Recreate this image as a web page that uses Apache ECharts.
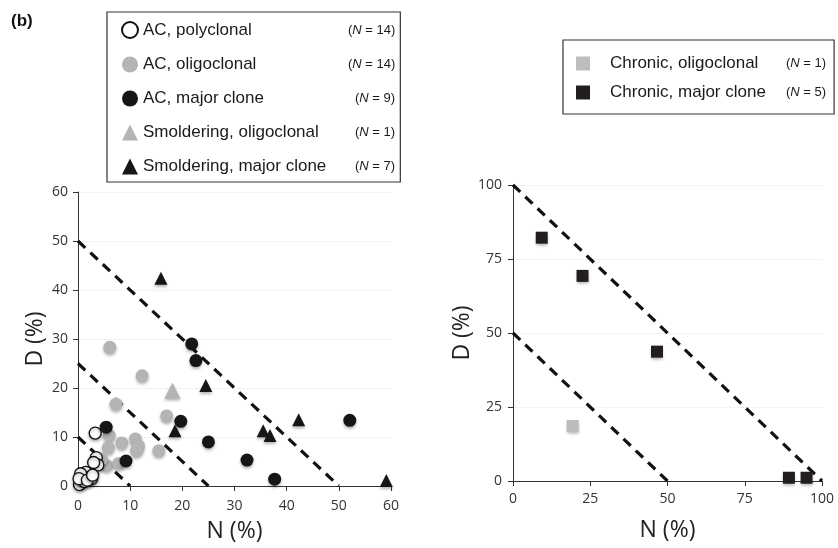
<!DOCTYPE html>
<html>
<head>
<meta charset="utf-8">
<script src="https://cdn.jsdelivr.net/npm/echarts@6.0.0/dist/echarts.min.js"></script>
<style>
  html, body { margin: 0; padding: 0; background: #fff; }
  #chart { width: 838px; height: 548px; }
</style>
</head>
<body>
<div id="chart"></div>
<script>
// values, [N %, D %]
const acPolyclonal = [
  [3.3, 10.8], [3.5, 5.8], [3.8, 4.3], [3.0, 4.8], [0.3, 0.3], [0.8, 1.5], [1.5, 2.8],
  [2.2, 1.8], [2.6, 1.5], [0.5, 2.5], [1.2, 0.9], [0.2, 1.5], [1.8, 1.2], [2.8, 2.2]
];
const acOligoclonal = [
  [6.1, 28.3], [12.3, 22.5], [7.3, 16.7], [17.0, 14.3], [6.0, 10.3], [5.8, 7.8], [8.4, 8.8],
  [11.0, 9.6], [11.6, 8.2], [11.2, 7.2], [15.5, 7.2], [5.5, 4.2], [7.8, 4.6], [4.5, 5.5]
];
const acMajorClone = [
  [21.8, 29.0], [22.6, 25.6], [19.7, 13.2], [25.0, 9.0], [32.4, 5.3], [37.7, 1.4],
  [52.1, 13.4], [5.4, 12.0], [9.2, 5.1]
];
const smolderingOligoclonal = [[18.1, 19.5]];
const smolderingMajorClone = [
  [15.9, 42.4], [24.5, 20.5], [18.6, 11.3], [35.5, 11.3], [36.8, 10.3], [42.3, 13.5], [59.1, 1.1]
];
const chronicOligoclonal = [[19.3, 18.6]];
const chronicMajorClone = [[9.3, 82.2], [22.5, 69.3], [46.6, 43.7], [89.3, 1.1], [95.0, 1.1]];

// dashed lines N + D = const
const leftDiagonals = [50, 25, 10];
const rightDiagonals = [100, 50];

const leftNames = ['AC, polyclonal', 'AC, oligoclonal', 'AC, major clone',
  'Smoldering, oligoclonal', 'Smoldering, major clone'];
const rightNames = ['Chronic, oligoclonal', 'Chronic, major clone'];
const groupCounts = {
  'AC, polyclonal': 14, 'AC, oligoclonal': 14, 'AC, major clone': 9,
  'Smoldering, oligoclonal': 1, 'Smoldering, major clone': 7,
  'Chronic, oligoclonal': 1, 'Chronic, major clone': 5
};

const chart = echarts.init(document.getElementById('chart'), null, { renderer: 'canvas' });

const tickFont = '"Open Sans", "DejaVu Sans", sans-serif';
const legendFont = '"Liberation Sans", Arial, sans-serif';
const shadow = { shadowColor: 'rgba(0,0,0,0.3)', shadowBlur: 3, shadowOffsetY: 2, opacity: 1 };

function axis(gridIndex, max, interval, name, isX, nameGap, margin) {
  return {
    type: 'value', gridIndex, min: 0, max, interval,
    name, nameLocation: 'middle', nameGap,
    nameTextStyle: { fontFamily: tickFont, fontSize: 23, color: '#222' },
    axisLine: { show: true, lineStyle: { color: '#333', width: 1 } },
    axisTick: { show: true, length: 5, lineStyle: { color: '#333' } },
    axisLabel: { fontFamily: tickFont, fontSize: 14, color: '#333', margin },
    splitLine: { show: !isX, lineStyle: { color: '#f3f3f3' } }
  };
}

function diagonal(c, xi) {
  return {
    type: 'line', xAxisIndex: xi, yAxisIndex: xi, silent: true, showSymbol: false, z: 1,
    data: [[0, c], [c, 0]],
    lineStyle: { color: '#111', width: 3.2, type: [10, 7] }
  };
}

function scatter(name, data, xi, symbol, size, itemStyle) {
  return {
    type: 'scatter', name, data, xAxisIndex: xi, yAxisIndex: xi, symbol, symbolSize: size, z: 3,
    itemStyle: Object.assign({}, shadow, itemStyle)
  };
}

function legendRich(aWidth) {
  return {
    a: { fontFamily: legendFont, fontSize: 17, color: '#1a1a1a', width: aWidth, lineHeight: 20 },
    n: { fontFamily: legendFont, fontSize: 13, color: '#1a1a1a', lineHeight: 20 },
    i: { fontFamily: legendFont, fontSize: 13, color: '#1a1a1a', fontStyle: 'italic', lineHeight: 20 }
  };
}

function legendLabel(name, prefix) {
  const n = groupCounts[name];
  const key = String(n).length > 1 ? 'a' : 'b';
  return `{${prefix}${key}|${name}}{n|(}{i|N}{n| = ${n})}`;
}

const leftRich = legendRich(205);
leftRich.la = leftRich.a;
leftRich.lb = Object.assign({}, leftRich.a, { width: 212 });
const rightRich = legendRich(176);
rightRich.rb = Object.assign({}, rightRich.a, { width: 176, padding: [0, 0, 0, 15] });

chart.setOption({
  backgroundColor: '#fff',
  animation: false,
  title: {
    text: '(b)', left: 6, top: 8,
    textStyle: { fontFamily: legendFont, fontSize: 17, fontWeight: 'bold', color: '#111' }
  },
  legend: [
    {
      data: leftNames, orient: 'vertical', left: 107, top: 12,
      padding: [9, 5, 7, 14], itemGap: 17, itemWidth: 16, itemHeight: 16,
      borderColor: '#333', borderWidth: 1.2, selectedMode: false,
      formatter: name => legendLabel(name, 'l'),
      textStyle: { rich: leftRich }
    },
    {
      data: rightNames, orient: 'vertical', left: 563, top: 40,
      padding: [15, 8, 13, 13], itemGap: 12, itemWidth: 14, itemHeight: 14,
      borderColor: '#333', borderWidth: 1.2, selectedMode: false,
      formatter: name => `{rb|${name}}{n|(}{i|N}{n| = ${groupCounts[name]})}`,
      textStyle: { rich: rightRich }
    }
  ],
  grid: [
    { left: 78, top: 192, width: 313, height: 295 },
    { left: 513, top: 185, width: 309, height: 296 }
  ],
  xAxis: [
    axis(0, 60, 10, 'N (%)', true, 34, 13),
    axis(1, 100, 25, 'N (%)', true, 38, 11)
  ],
  yAxis: [
    axis(0, 60, 10, 'D (%)', false, 31, 10),
    axis(1, 100, 25, 'D (%)', false, 21, 11)
  ],
  series: [
    ...leftDiagonals.map(c => diagonal(c, 0)),
    ...rightDiagonals.map(c => diagonal(c, 1)),
    scatter('AC, oligoclonal', acOligoclonal, 0, 'circle', 13, { color: '#b4b4b6' }),
    scatter('AC, polyclonal', acPolyclonal, 0, 'circle', 12,
      { color: '#fff', borderColor: '#111', borderWidth: 1.3 }),
    scatter('AC, major clone', acMajorClone, 0, 'circle', 13, { color: '#161616' }),
    scatter('Smoldering, oligoclonal', smolderingOligoclonal, 0, 'triangle', 16, { color: '#b4b4b6' }),
    scatter('Smoldering, major clone', smolderingMajorClone, 0, 'triangle', 13, { color: '#161616' }),
    scatter('Chronic, oligoclonal', chronicOligoclonal, 1, 'rect', 12, { color: '#bdbdbf' }),
    scatter('Chronic, major clone', chronicMajorClone, 1, 'rect', 12, { color: '#221e1f' })
  ]
});
</script>
</body>
</html>
